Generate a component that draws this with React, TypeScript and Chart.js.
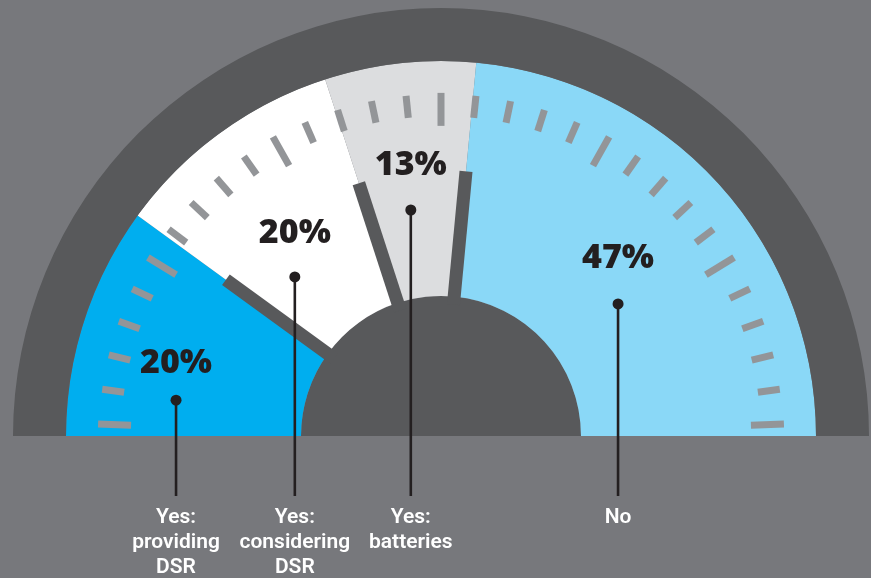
import React, { useEffect, useRef } from "react";
import { Chart, registerables } from "chart.js";

Chart.register(...registerables);

// ---- data ----
const categories = ["Yes: providing DSR", "Yes: considering DSR", "Yes: batteries", "No"];
const categoryLines = [
  ["Yes:", "providing", "DSR"],
  ["Yes:", "considering", "DSR"],
  ["Yes:", "batteries"],
  ["No"],
];
const shares = [20, 20, 13, 47];

// ---- styles ----
const segmentColors = ["#00aeef", "#ffffff", "#dcdddf", "#8ad8f7"];
const BG = "#77787c";
const DARK = "#58595b";
const TICK = "#939598";
const INK = "#231f20";

// callout layout (fraction along each segment's arc, radius fraction of the segment ring, label lift in px)
const calloutAngleFrac = [0.214, 0.317, 0.444, 0.566];
const calloutRadiusFrac = [0.713, 0.576, 0.608, 0.589];
const labelLift = [40, 46, 48, 48];

const gaugePlugin = {
  id: "gaugeDecor",
  afterDatasetsDraw(chart: any) {
    const ctx = chart.ctx as CanvasRenderingContext2D;
    const seg = chart.getDatasetMeta(1);
    const hub = chart.getDatasetMeta(2);
    const arcs = seg.data as any[];
    if (!arcs.length) return;
    const cx = arcs[0].x;
    const cy = arcs[0].y;
    const R = arcs[0].outerRadius;
    const hubR = (hub.data[0] as any).outerRadius;
    ctx.save();
    // dial ticks
    ctx.strokeStyle = TICK;
    ctx.lineWidth = 7;
    ctx.lineCap = "butt";
    const n = 31;
    for (let k = 0; k < n; k++) {
      const deg = 2 + (k * 176) / (n - 1);
      const a = (-deg * Math.PI) / 180;
      const long = k % 5 === 0;
      const r1 = R * (long ? 0.827 : 0.853);
      const r2 = R * (long ? 0.915 : 0.912);
      ctx.beginPath();
      ctx.moveTo(cx + r1 * Math.cos(a), cy + r1 * Math.sin(a));
      ctx.lineTo(cx + r2 * Math.cos(a), cy + r2 * Math.sin(a));
      ctx.stroke();
    }
    // needles on segment boundaries
    ctx.strokeStyle = DARK;
    ctx.lineWidth = 13;
    for (let i = 0; i < arcs.length - 1; i++) {
      const a = arcs[i].endAngle;
      const r1 = hubR - 8;
      const r2 = R * 0.709;
      ctx.beginPath();
      ctx.moveTo(cx + r1 * Math.cos(a), cy + r1 * Math.sin(a));
      ctx.lineTo(cx + r2 * Math.cos(a), cy + r2 * Math.sin(a));
      ctx.stroke();
    }
    ctx.restore();
  },
  afterDraw(chart: any) {
    const ctx = chart.ctx as CanvasRenderingContext2D;
    const seg = chart.getDatasetMeta(1);
    const arcs = seg.data as any[];
    if (!arcs.length) return;
    const cx = arcs[0].x;
    const cy = arcs[0].y;
    const R = arcs[0].outerRadius;
    const values = chart.data.datasets[1].data as number[];
    ctx.save();
    arcs.forEach((arc, i) => {
      const a = arc.startAngle + (arc.endAngle - arc.startAngle) * calloutAngleFrac[i];
      const r = R * calloutRadiusFrac[i];
      const px = cx + r * Math.cos(a);
      const py = cy + r * Math.sin(a);
      ctx.strokeStyle = INK;
      ctx.lineWidth = 2.6;
      ctx.beginPath();
      ctx.moveTo(px, py);
      ctx.lineTo(px, cy + 60);
      ctx.stroke();
      ctx.fillStyle = INK;
      ctx.beginPath();
      ctx.arc(px, py, 5.5, 0, Math.PI * 2);
      ctx.fill();
      ctx.textAlign = "center";
      ctx.textBaseline = "alphabetic";
      ctx.font = '800 34px "Open Sans"';
      ctx.fillText(values[i] + "%", px, py - labelLift[i] + 12.5);
      ctx.fillStyle = "#ffffff";
      ctx.font = '600 21px Roboto';
      categoryLines[i].forEach((t, j) => {
        ctx.fillText(t, px, cy + 87 + j * 25);
      });
    });
    ctx.restore();
  },
};

export default function App() {
  const ref = useRef<HTMLCanvasElement | null>(null);
  useEffect(() => {
    if (!ref.current) return;
    const chart = new Chart(ref.current, {
      type: "doughnut",
      data: {
        labels: categories,
        datasets: [
          { data: [100], backgroundColor: [DARK], borderWidth: 0, weight: 53 } as any,
          { data: shares, backgroundColor: segmentColors, borderWidth: 0, weight: 235 } as any,
          { data: [100], backgroundColor: [DARK], borderWidth: 0, weight: 140 } as any,
        ],
      },
      options: {
        responsive: false,
        animation: false,
        events: [],
        rotation: -90,
        circumference: 180,
        cutout: 0,
        layout: { padding: { left: 13, right: 2, top: 8, bottom: 142 } },
        plugins: { legend: { display: false }, tooltip: { enabled: false } },
      },
      plugins: [gaugePlugin],
    });
    const fonts: any = (document as any).fonts;
    if (fonts && fonts.ready) fonts.ready.then(() => chart.update());
    return () => chart.destroy();
  }, []);
  return (
    <div style={{ position: "fixed", left: 0, top: 0, width: 871, height: 578, background: BG }}>
      <canvas ref={ref} width={871} height={578} style={{ display: "block" }} />
    </div>
  );
}
